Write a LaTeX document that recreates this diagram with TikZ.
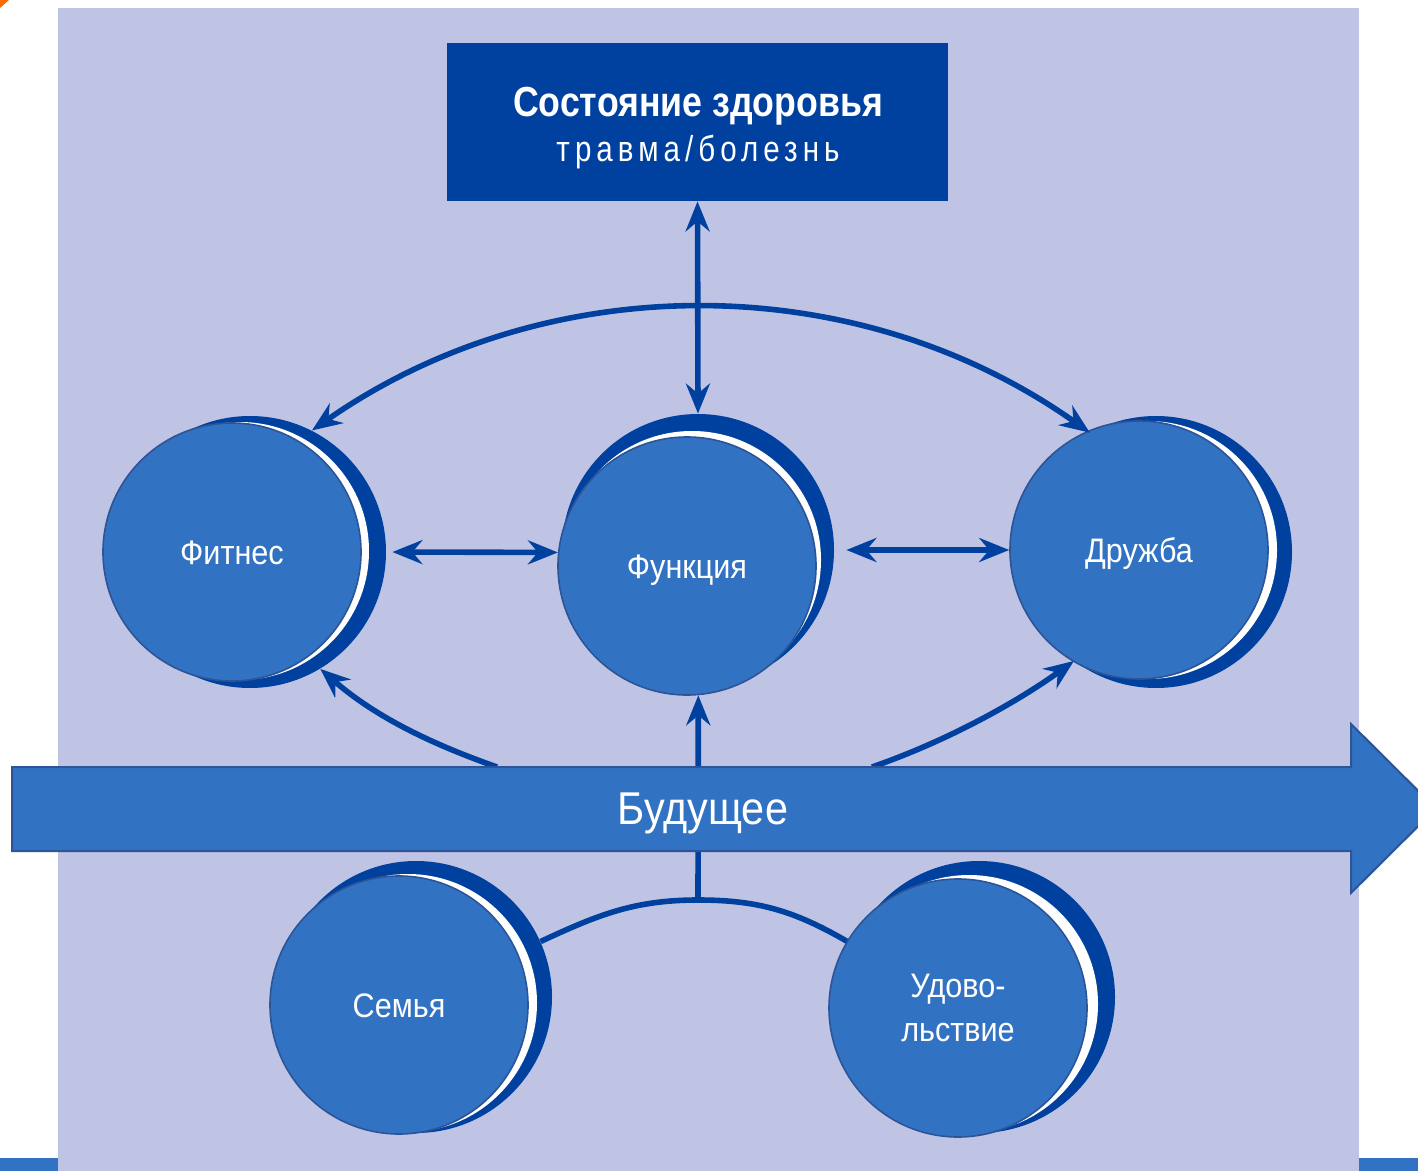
\documentclass[tikz,border=0pt]{standalone}
\usepackage{fontspec}
\setmainfont{Liberation Sans}
\newfontfamily\titlefont{Liberation Sans}[FakeStretch=0.85]
\newfontfamily\spacedfont{Liberation Sans}[FakeStretch=0.82,LetterSpace=14]
\newfontfamily\narrowfont{Liberation Sans}[FakeStretch=0.9]
\usetikzlibrary{arrows.meta}
\definecolor{lavender}{RGB}{192,196,228}
\definecolor{navy}{RGB}{0,65,160}
\definecolor{midblue}{RGB}{49,115,194}
\definecolor{rimblue}{RGB}{44,84,150}
\definecolor{cornerorange}{RGB}{255,106,0}

\begin{document}
\begin{tikzpicture}[x=0.5pt,y=-0.5pt,
  >={Stealth[length=15pt,width=12pt,inset=5pt]},
  link/.style={draw=navy,line width=2.8pt},
  shadowdisc/.style={circle,fill=navy,minimum size=136pt,inner sep=0pt},
  glint/.style={circle,fill=white,minimum size=129pt,inner sep=0pt},
  disc/.style={circle,fill=midblue,draw=rimblue,line width=0.8pt,minimum size=129pt,
    inner sep=0pt,text=white,align=center,font=\narrowfont\fontsize{17}{22}\selectfont},
  oneline/.style={text height=12pt,text depth=0pt},
  bar/.style={fill=midblue,draw=rimblue,line width=1pt}]

\useasboundingbox[fill=white] (0,0) rectangle (1418,1171);
\fill[lavender] (58,8) rectangle (1359,1171);
\fill[cornerorange] (0,0) -- (9,0) -- (0,8) -- cycle;
\fill[midblue] (0,1158) rectangle (58,1171);
\fill[midblue] (1359,1158) rectangle (1418,1171);

% top box
\node[fill=navy,minimum width=250.5pt,minimum height=79pt,inner sep=0pt] (state) at (697.5,122) {};
\node[anchor=base,text=white,font=\titlefont\bfseries\fontsize{21}{24}\selectfont] (statetitle) at (698,117) {Состояние здоровья};
\node[anchor=base,text=white,font=\spacedfont\fontsize{18}{22}\selectfont] (statesub) at (698,162) {травма/болезнь};

% circles
\node[shadowdisc] (fit-s) at (250,552) {};
\node[glint] (fit-g) at (240,551) {};
\node[disc,oneline] (fit) at (232,552) {Фитнес};

\node[shadowdisc] (fun-s) at (698,550) {};
\node[glint] (fun-g) at (692,560) {};
\node[disc,oneline] (fun) at (687,566) {Функция};

\node[shadowdisc] (dru-s) at (1156,552) {};
\node[glint] (dru-g) at (1148,550) {};
\node[disc,oneline] (dru) at (1139,550) {Дружба};

\node[shadowdisc] (sem-s) at (416,997) {};
\node[glint] (sem-g) at (408,1003) {};
\node[disc,oneline] (sem) at (399,1005) {Семья};

\node[shadowdisc] (udo-s) at (979,997) {};
\node[glint] (udo-g) at (969,1004) {};
\node[disc] (udo) at (958,1008) {Удово-\\льствие};

% connectors
\coordinate (barL) at (497,767);
\coordinate (barR) at (872,767);
\coordinate (hub) at (698,900);

\draw[link,<->] (fit-s.63) .. controls (546,267) and (856,267) .. (dru-s.119);
\draw[link,<->] (state.south) -- (fun-s.north);
\draw[link,<->,shorten <=3pt] (fit-s.east) -- (fun.174);
\draw[link,<->,shorten <=6pt] (fun-s.east) -- (dru.west);
\draw[link,->] (barL) .. controls (420,740) and (370,712) .. (fit-s.-59);
\draw[link,->] (barR) .. controls (950,740) and (1020,700) .. (dru-s.233);
\draw[link,->] (hub) -- (fun.-85);
\draw[link] (sem-s.24) to[out=25,in=180] (hub) to[out=0,in=150] (udo.149);

% future arrow
\draw[bar] (12,767) -- (1351,767) -- (1351,724) -- (1436,808.5) -- (1351,893) -- (1351,851) -- (12,851) -- cycle;
\node[text=white,font=\narrowfont\fontsize{23}{28}\selectfont] (future) at (703,813) {Будущее};
\end{tikzpicture}
\end{document}
